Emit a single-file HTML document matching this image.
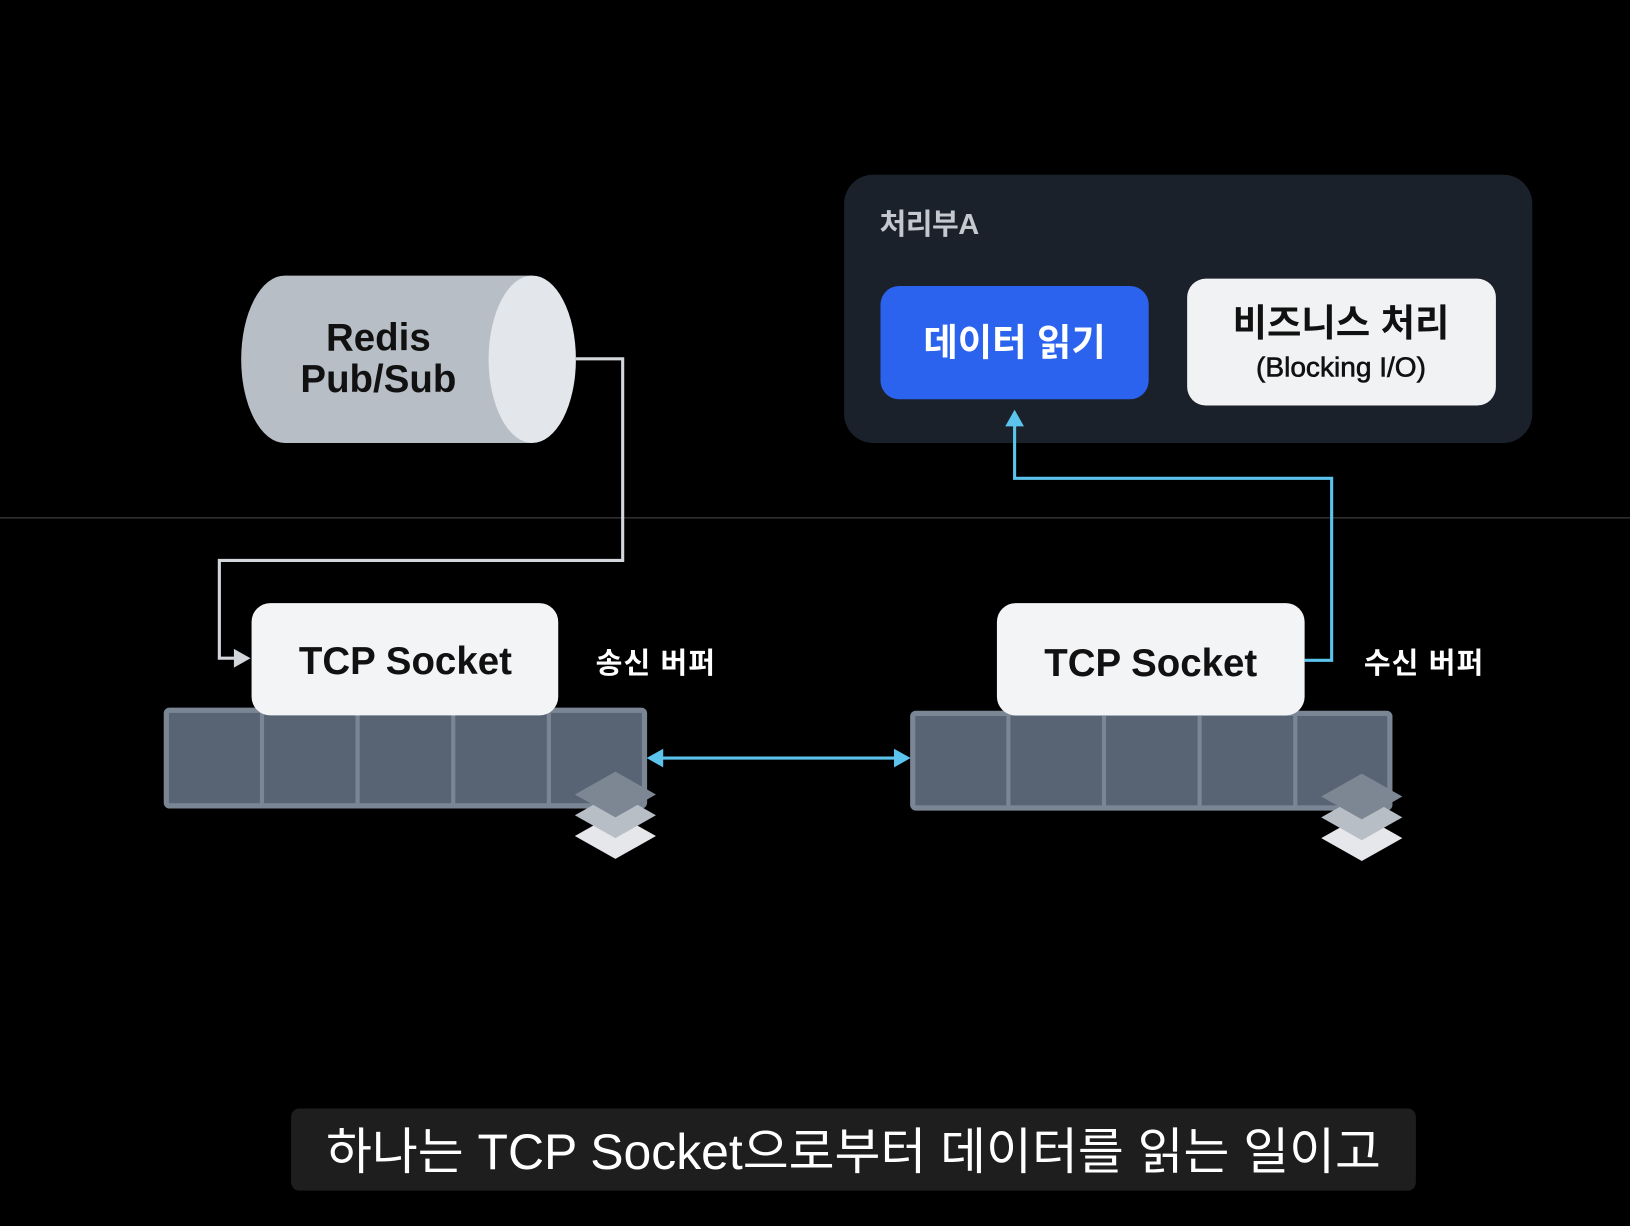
<!DOCTYPE html>
<html><head><meta charset="utf-8"><style>
html,body{margin:0;padding:0;background:#000;}
svg{display:block;}
text{font-family:"Liberation Sans","Noto Sans CJK KR",sans-serif;}
</style></head><body>
<svg width="1630" height="1226" viewBox="0 0 1568 1179" preserveAspectRatio="none" xmlns="http://www.w3.org/2000/svg">
<rect width="1568" height="1179" fill="#000"/>
<line x1="0" y1="498" x2="1568" y2="498" stroke="#4a4a4a" stroke-width="1"/>
<rect x="812" y="168" width="662" height="258" rx="28" fill="#1b212b"/>
<text x="846" y="225" font-size="28" font-weight="bold" fill="#c5c9cf" letter-spacing="-0.5">처리부A</text>
<rect x="847" y="275" width="258" height="109" rx="18" fill="#2b63ee"/>
<text x="976" y="342" font-size="36" font-weight="bold" fill="#fff" text-anchor="middle">데이터 읽기</text>
<rect x="1142" y="268" width="297" height="122" rx="18" fill="#f1f2f4"/>
<text x="1290" y="323" font-size="36" font-weight="bold" fill="#111" text-anchor="middle">비즈니스 처리</text>
<text x="1290" y="362" font-size="27" fill="#111" text-anchor="middle" stroke="#111" stroke-width="0.6">(Blocking I/O)</text>
<path d="M274 265 H512 V426 H274 A42 80.5 0 0 1 274 265 Z" fill="#b8bec6"/>
<ellipse cx="512" cy="345.5" rx="42" ry="80.5" fill="#e3e6ea"/>
<text x="364" y="337" font-size="37" font-weight="bold" fill="#111" text-anchor="middle">Redis</text>
<text x="364" y="377" font-size="37" font-weight="bold" fill="#111" text-anchor="middle">Pub/Sub</text>
<polyline points="554,345 599,345 599,539 211,539 211,633 228,633" fill="none" stroke="#d3d6da" stroke-width="3"/>
<polygon points="241,633 225,624 225,642" fill="#d3d6da"/>
<rect x="160" y="683" width="460" height="92" rx="3" fill="#586474" stroke="#7b8694" stroke-width="5"/>
<g stroke="#7b8694" stroke-width="4"><line x1="252" y1="683" x2="252" y2="775"/><line x1="344" y1="683" x2="344" y2="775"/><line x1="436" y1="683" x2="436" y2="775"/><line x1="528" y1="683" x2="528" y2="775"/></g>
<rect x="242" y="580" width="295" height="108" rx="18" fill="#f3f4f6"/>
<text x="390" y="648" font-size="37" font-weight="bold" fill="#111" text-anchor="middle">TCP Socket</text>
<text x="573" y="647" font-size="28" font-weight="bold" fill="#fff" letter-spacing="1">송신 버퍼</text>
<rect x="878" y="686" width="459" height="91" rx="3" fill="#586474" stroke="#7b8694" stroke-width="5"/>
<g stroke="#7b8694" stroke-width="4"><line x1="970" y1="686" x2="970" y2="777"/><line x1="1062" y1="686" x2="1062" y2="777"/><line x1="1154" y1="686" x2="1154" y2="777"/><line x1="1246" y1="686" x2="1246" y2="777"/></g>
<rect x="959" y="580" width="296" height="108" rx="18" fill="#f3f4f6"/>
<text x="1107" y="650" font-size="37" font-weight="bold" fill="#111" text-anchor="middle">TCP Socket</text>
<text x="1312" y="647" font-size="28" font-weight="bold" fill="#fff" letter-spacing="1">수신 버퍼</text>
<polyline points="1255,635 1281,635 1281,460 976,460 976,408" fill="none" stroke="#5bc3ec" stroke-width="3"/>
<polygon points="976,394 967,410 985,410" fill="#5bc3ec"/>
<line x1="636" y1="729" x2="862" y2="729" stroke="#5bc3ec" stroke-width="3"/>
<polygon points="622,729 638,720 638,738" fill="#5bc3ec"/>
<polygon points="876,729 860,720 860,738" fill="#5bc3ec"/>
<g>
<polygon points="592,782 631,804 592,826 553,804" fill="#e5e7ea"/>
<polygon points="592,762 631,784 592,806 553,784" fill="#b8bec6"/>
<polygon points="592,742 631,764 592,786 553,764" fill="#7d8794"/>
</g>
<g transform="translate(718,2)">
<polygon points="592,782 631,804 592,826 553,804" fill="#e5e7ea"/>
<polygon points="592,762 631,784 592,806 553,784" fill="#b8bec6"/>
<polygon points="592,742 631,764 592,786 553,764" fill="#7d8794"/>
</g>
<rect x="280" y="1066" width="1082" height="79" rx="8" fill="#1e1e1e"/>
<text x="821" y="1124" font-size="48" fill="#fff" text-anchor="middle">하나는 TCP Socket으로부터 데이터를 읽는 일이고</text>
</svg>
</body></html>
